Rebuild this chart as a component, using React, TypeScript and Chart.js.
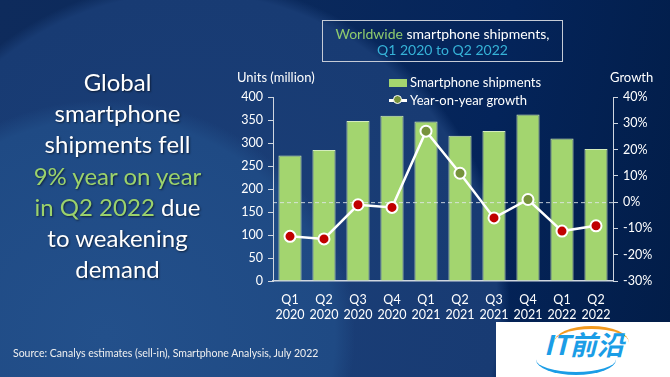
import React, { useEffect, useRef } from "react";
import { Chart, registerables } from "chart.js";

Chart.register(...registerables);

const categories: string[][] = [
  ["Q1", "2020"], ["Q2", "2020"], ["Q3", "2020"], ["Q4", "2020"],
  ["Q1", "2021"], ["Q2", "2021"], ["Q3", "2021"], ["Q4", "2021"],
  ["Q1", "2022"], ["Q2", "2022"],
];
const shipments: number[] = [273, 285, 348, 359, 347, 316, 326, 362, 310, 287];
const growth: number[] = [-13, -14, -1, -2, 27, 11, -6, 1, -11, -9];
const seriesLabels: string[] = ["Smartphone shipments", "Year-on-year growth"];
const unitsRange: number[] = [0, 400, 50];
const growthRange: number[] = [-30, 40, 10];

const FONT = "Lato, 'Open Sans', sans-serif";
const BAR = "#a3d56f";
const POS = "#77933c";
const NEG = "#c00000";
const AXIS = "#cfd6e0";

const zeroLine = {
  id: "zeroLine",
  beforeDatasetDraw(chart: any, args: any) {
    if (args.meta.type !== "line") return;
    const y = chart.scales.y1.getPixelForValue(0);
    const { left, right } = chart.chartArea;
    const ctx = chart.ctx;
    ctx.save();
    ctx.strokeStyle = "rgba(225,230,235,0.85)";
    ctx.lineWidth = 1;
    ctx.setLineDash([4, 3]);
    ctx.beginPath();
    ctx.moveTo(left, y + 0.5);
    ctx.lineTo(right, y + 0.5);
    ctx.stroke();
    ctx.restore();
  },
};

function ChartCanvas() {
  const ref = useRef<HTMLCanvasElement | null>(null);
  useEffect(() => {
    if (!ref.current) return;
    const chart = new Chart(ref.current, {
      type: "bar",
      data: {
        labels: categories,
        datasets: [
          {
            type: "line",
            label: seriesLabels[1],
            data: growth,
            yAxisID: "y1",
            borderColor: "#ffffff",
            borderWidth: 2.5,
            pointRadius: 5.5,
            pointBorderWidth: 2,
            pointBorderColor: "#ffffff",
            pointBackgroundColor: growth.map((g) => (g >= 0 ? POS : NEG)),
            order: 0,
          } as any,
          {
            type: "bar",
            label: seriesLabels[0],
            data: shipments,
            yAxisID: "y",
            backgroundColor: BAR,
            borderColor: "#d4ecbc",
            borderWidth: 1,
            barPercentage: 0.68,
            categoryPercentage: 1,
            order: 1,
          },
        ],
      },
      options: {
        animation: false,
        responsive: true,
        maintainAspectRatio: false,
        layout: { padding: { left: 230, top: 97, right: 0, bottom: 48 } },
        plugins: { legend: { display: false }, tooltip: { enabled: false } },
        scales: {
          x: {
            grid: { display: false, drawTicks: false, tickLength: 0 },
            border: { display: true, color: AXIS, width: 1.5 },
            ticks: {
              color: "#ffffff",
              font: { family: FONT, size: 12.5, lineHeight: 1.2 },
              padding: 11,
              maxRotation: 0,
              autoSkip: false,
            },
            afterFit(scale: any) { scale.height = 48; },
          },
          y: {
            position: "left",
            min: unitsRange[0],
            max: unitsRange[1],
            grid: { drawOnChartArea: false, drawTicks: true, tickLength: 5, tickColor: AXIS, tickWidth: 1 },
            border: { display: true, color: AXIS, width: 1 },
            ticks: {
              stepSize: unitsRange[2],
              color: "#ffffff",
              font: { family: FONT, size: 12.5 },
              padding: 5,
            },
            afterFit(scale: any) { scale.width = 43; },
          },
          y1: {
            position: "right",
            min: growthRange[0],
            max: growthRange[1],
            grid: { drawOnChartArea: false, drawTicks: true, tickLength: 5, tickColor: AXIS, tickWidth: 1 },
            border: { display: true, color: AXIS, width: 1 },
            ticks: {
              stepSize: growthRange[2],
              color: "#ffffff",
              font: { family: FONT, size: 12.5 },
              padding: 5,
              callback: (v: any) => v + "%",
            },
            afterFit(scale: any) { scale.width = 57; },
          },
        },
      },
      plugins: [zeroLine],
    });
    return () => chart.destroy();
  }, []);
  return <canvas ref={ref} />;
}

export default function App() {
  const bg =
    "radial-gradient(ellipse 250px 235px at 105px 335px, #23508b 0%, #1f4a84 92%, rgba(0,0,0,0) 100%)," +
    "radial-gradient(ellipse 320px 330px at 190px 310px, #1b3f78 0%, #183b73 96%, rgba(0,0,0,0) 100%)," +
    "linear-gradient(100deg, #0e2b5c 0%, #0a295c 40%, #04245a 70%, #021d48 100%)";
  const txt: React.CSSProperties = { position: "absolute", fontFamily: FONT, color: "#ffffff", whiteSpace: "nowrap" };
  return (
    <div style={{ position: "fixed", left: 0, top: 0, width: 670, height: 377, overflow: "hidden", background: bg }}>
      <div style={{ position: "absolute", left: 0, top: 0, width: 670, height: 377 }}>
        <ChartCanvas />
      </div>
      {/* left headline */}
      <div
        style={{
          ...txt,
          left: 0,
          top: 66,
          width: 235,
          textAlign: "center",
          fontSize: 24,
          lineHeight: "31.2px",
          textShadow: "1px 1px 2px rgba(0,0,0,0.55)",
        }}
      >
        <div>Global</div>
        <div>smartphone</div>
        <div>shipments fell</div>
        <div style={{ color: "#9bd26c" }}>9% year on year</div>
        <div><span style={{ color: "#9bd26c" }}>in Q2 2022</span> due</div>
        <div>to weakening</div>
        <div>demand</div>
      </div>
      {/* title box */}
      <div
        style={{
          position: "absolute",
          left: 322,
          top: 20,
          width: 241,
          height: 42,
          border: "1px solid #c5cbd6",
          fontFamily: FONT,
          fontSize: 14,
          lineHeight: "16px",
          textAlign: "center",
          color: "#ffffff",
          paddingTop: 5,
          boxSizing: "border-box",
        }}
      >
        <div><span style={{ color: "#8fcb6e" }}>Worldwide</span> smartphone shipments,</div>
        <div style={{ color: "#36b3d8" }}>Q1 2020 to Q2 2022</div>
      </div>
      {/* axis titles */}
      <div style={{ ...txt, left: 237, top: 69, fontSize: 13, lineHeight: "16px" }}>Units (million)</div>
      <div style={{ ...txt, left: 610, top: 69, fontSize: 13, lineHeight: "16px" }}>Growth</div>
      {/* legend */}
      <div style={{ position: "absolute", left: 389, top: 79, width: 18, height: 8, background: BAR }} />
      <div style={{ ...txt, left: 410, top: 74, fontSize: 13, lineHeight: "16px" }}>{seriesLabels[0]}</div>
      <div style={{ position: "absolute", left: 389, top: 99, width: 18, height: 2.5, background: "#ffffff" }} />
      <div
        style={{
          position: "absolute",
          left: 393,
          top: 95,
          width: 7,
          height: 7,
          borderRadius: "50%",
          background: POS,
          border: "1.5px solid #ffffff",
        }}
      />
      <div style={{ ...txt, left: 410, top: 92, fontSize: 13, lineHeight: "16px" }}>{seriesLabels[1]}</div>
      {/* source */}
      <div style={{ ...txt, left: 13, top: 346, fontSize: 10.5, lineHeight: "14px", color: "#f0f0f0" }}>
        Source: Canalys estimates (sell-in), Smartphone Analysis, July 2022
      </div>
      {/* watermark */}
      <div style={{ position: "absolute", left: 496, top: 322, width: 174, height: 55, background: "#ffffff" }}>
        <div
          style={{
            position: "absolute",
            left: 58,
            top: 4,
            width: 75,
            height: 30,
            borderTop: "3px solid #f39a1e",
            borderRadius: "50%",
          }}
        />
        <div
          style={{
            position: "absolute",
            left: 48,
            top: 5,
            fontFamily: "'Noto Sans CJK SC', sans-serif",
            fontWeight: 700,
            fontStyle: "italic",
            fontSize: 27,
            lineHeight: "34px",
            color: "#1b9de6",
            whiteSpace: "nowrap",
          }}
        >
          IT前沿
        </div>
        <div
          style={{
            position: "absolute",
            left: 40,
            top: 22,
            width: 80,
            height: 28,
            borderBottom: "3px solid #1b9de6",
            borderRadius: "50%",
          }}
        />
      </div>
    </div>
  );
}
